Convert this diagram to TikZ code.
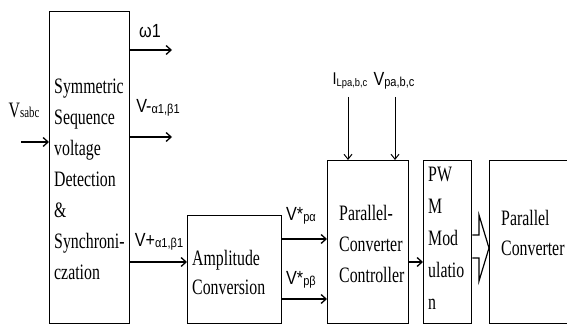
\documentclass[tikz,border=0pt]{standalone}
\usepackage{fontspec}
\setmainfont{Liberation Serif}
\newfontfamily\boxfont[FakeStretch=0.72]{Liberation Serif}
\newfontfamily\labfont[FakeStretch=0.85]{Liberation Sans}
\usetikzlibrary{arrows.meta}
\newcommand\subt[2]{\raisebox{-1.5pt}{\fontsize{#1}{#1}\selectfont #2}}
\begin{document}
\begin{tikzpicture}[x=1pt,y=-1pt,
  blk/.style={draw, line width=1.3pt, inner sep=0pt, anchor=north west},
  btxt/.style={align=left, inner sep=0pt, anchor=west, font=\boxfont\fontsize{22}{31}\selectfont},
  lab/.style={inner sep=0pt, font=\labfont\fontsize{19}{19}\selectfont},
  arr/.style={line width=1.3pt, -{Straight Barb[length=5pt,width=9pt,line width=1.3pt]}},
  thinarr/.style={line width=1pt, -{Straight Barb[length=5pt,width=8pt,line width=1pt]}}]
\useasboundingbox (0,0) rectangle (567,326);
\fill[white] (0,0) rectangle (567,326);

% blocks
\node[blk, minimum width=80pt, minimum height=312pt] (sym) at (49,11) {};
\node[blk, minimum width=94pt, minimum height=108pt] (amp) at (187,215) {};
\node[blk, minimum width=81pt, minimum height=163pt] (pcc) at (327,160) {};
\node[blk, minimum width=48pt, minimum height=163pt] (pwm) at (423,160) {};
\begin{scope}
\clip (0,0) rectangle (567,326);
\node[blk, minimum width=90pt, minimum height=163pt] (pc) at (489,160) {};
\end{scope}

% block texts
\node[btxt] (symt) at (54,179) {Symmetric\\Sequence\\voltage\\Detection\\\&\\Synchroni-\\czation};
\node[btxt, font=\boxfont\fontsize{22}{29}\selectfont] (ampt) at (192,272) {Amplitude\\Conversion};
\node[btxt] (pcct) at (339,244) {Parallel-\\Converter\\Controller};
\node[btxt, font=\boxfont\fontsize{22}{32}\selectfont] (pwmt) at (428,238) {PW\\M\\Mod\\ulatio\\n};
\node[btxt, font=\boxfont\fontsize{22}{30}\selectfont] (pct) at (501,233) {Parallel\\Converter};

% coordinates
\coordinate (vin) at (21,142);
\coordinate (w1e) at (172,50);
\coordinate (vme) at (172,137);
\coordinate (ist) at (348,97);
\coordinate (vst) at (395,97);

% connectors
\draw[arr] (vin) -- (sym.west |- vin);
\draw[arr] (sym.east |- w1e) -- (w1e);
\draw[arr] (sym.east |- vme) -- (vme);
\draw[arr] (sym.east |- 0,262) -- (amp.west |- 0,262);
\draw[arr] (amp.east |- 0,239) -- (pcc.west |- 0,239);
\draw[arr] (amp.east |- 0,299) -- (pcc.west |- 0,299);
\draw[thinarr] (ist) -- (ist |- pcc.north);
\draw[thinarr] (vst) -- (vst |- pcc.north);
\draw[arr] (pcc.east |- 0,262) -- (pwm.west |- 0,262);
\draw[line width=1.2pt, line join=miter] (pwm.east |- 0,235) -- (479,235) -- (479,215) -- (pc.west |- 0,248) -- (479,281) -- (479,258) -- (pwm.east |- 0,258);

% labels
\node[inner sep=0pt, font=\boxfont\fontsize{22}{22}\selectfont] (lvs) at (24,110) {V\fontsize{15}{15}\selectfont sabc};
\node[lab] (lw) at (150,31) {ω1};
\node[lab] (lvm) at (158,108) {V-\subt{13}{α1,β1}};
\node[lab] (lvp) at (159,242) {V+\subt{13}{α1,β1}};
\node[lab] (lva) at (301,216) {V*\subt{13}{pα}};
\node[lab] (lvb) at (301,280) {V*\subt{13}{pβ}};
\node[lab, font=\labfont\fontsize{17}{17}\selectfont] (li) at (350,81) {I\subt{11}{Lpa,b,c}};
\node[lab, font=\labfont\fontsize{19}{19}\selectfont] (lv) at (394,81) {V\subt{13}{pa,b,c}};
\end{tikzpicture}
\end{document}
